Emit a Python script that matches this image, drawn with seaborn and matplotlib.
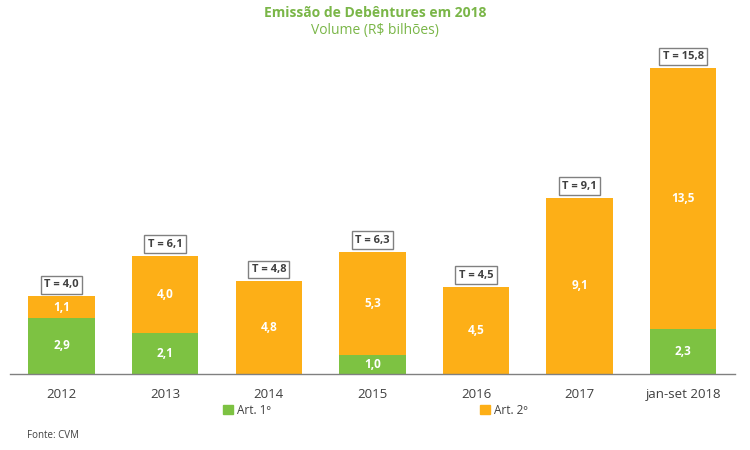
import matplotlib
matplotlib.use("Agg")
import matplotlib.pyplot as plt
import seaborn as sns
import pandas as pd
from matplotlib.patches import Patch

categories = ["2012", "2013", "2014", "2015", "2016", "2017", "jan-set 2018"]
art1 = [2.9, 2.1, 0.0, 1.0, 0.0, 0.0, 2.3]
art2 = [1.1, 4.0, 4.8, 5.3, 4.5, 9.1, 13.5]
totals = [4.0, 6.1, 4.8, 6.3, 4.5, 9.1, 15.8]

GREEN = "#7DC242"
ORANGE = "#FDAF17"
TITLE_GREEN = "#7AB648"

sns.set_theme(style="white")
plt.rcParams["font.family"] = ["Open Sans", "DejaVu Sans"]

df = pd.DataFrame({"cat": categories, "art1": art1, "art2": art2, "total": totals})

fig = plt.figure(figsize=(7.5, 4.5), dpi=100)
ax = fig.add_axes([0.013, 0.169, 0.967, 0.76])

sns.barplot(data=df, x="cat", y="total", color=ORANGE, width=0.64, ax=ax,
            saturation=1, edgecolor="none")
sns.barplot(data=df, x="cat", y="art1", color=GREEN, width=0.64, ax=ax,
            saturation=1, edgecolor="none")

ax.set_xlim(-0.5, 6.5)
ax.set_ylim(0, 17.66)
ax.set_xlabel("")
ax.set_ylabel("")
ax.set_yticks([])
for s in ["top", "right", "left"]:
    ax.spines[s].set_visible(False)
ax.spines["bottom"].set_color("#808080")
ax.spines["bottom"].set_linewidth(1.0)
ax.tick_params(axis="x", which="major", length=0, pad=10, labelsize=9.5, labelcolor="#404040")
ax.set_xticks(range(len(categories)))
ax.set_xticklabels(categories)
ax.set_xticks([i - 0.5 for i in range(len(categories) + 1)], minor=True)
ax.tick_params(axis="x", which="minor", length=5, color="#808080", width=1, direction="out")

def fmt(v):
    return f"{v:.1f}".replace(".", ",")

for i, (a1, a2, t) in enumerate(zip(art1, art2, totals)):
    if a1 > 0:
        ax.text(i, a1 / 2, fmt(a1), ha="center", va="center", color="white",
                fontsize=8.5, fontweight="bold")
    if a2 > 0:
        ax.text(i, a1 + a2 / 2, fmt(a2), ha="center", va="center", color="white",
                fontsize=8.5, fontweight="bold")
    ax.text(i, t + 0.6, f"T = {fmt(t)}", ha="center", va="center", color="#404040",
            fontsize=8, fontweight="bold",
            bbox=dict(boxstyle="square,pad=0.3", fc="white", ec="#808080", lw=1))

fig.text(0.5, 0.972, "Emissão de Debêntures em 2018", ha="center", va="center",
         color=TITLE_GREEN, fontsize=10, fontweight="bold")
fig.text(0.5, 0.933, "Volume (R$ bilhões)", ha="center", va="center",
         color=TITLE_GREEN, fontsize=10)

handles = [Patch(color=GREEN, label="Art. 1º"), Patch(color=ORANGE, label="Art. 2º")]
fig.legend(handles=handles, loc="center", bbox_to_anchor=(0.501, 0.088), ncol=2,
           frameon=False, fontsize=8.5, handlelength=0.8, handleheight=0.8,
           handletextpad=0.4, columnspacing=17.7, labelcolor="#404040")

fig.text(0.036, 0.033, "Fonte: CVM", ha="left", va="center", color="#404040", fontsize=7)

fig.savefig("out.png", dpi=100)
